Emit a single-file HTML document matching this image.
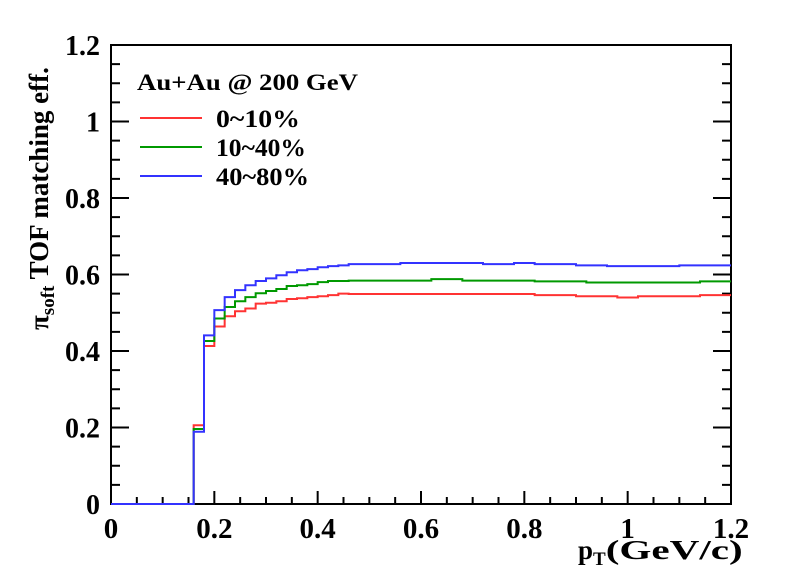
<!DOCTYPE html>
<html><head><meta charset="utf-8"><style>
body{margin:0;background:#fff}
text{font-family:"Liberation Serif",serif;font-weight:bold}
</style></head><body>
<svg id="c" width="796" height="574" viewBox="0 0 796 574" xmlns="http://www.w3.org/2000/svg">
<rect width="796" height="574" fill="#fff"/>
<g id="plot"></g>
</svg>
<script>
const binStart = 0.16, binWidth = 0.02;
const red = [.206,.413,.464,.491,.504,.511,.524,.526,.530,.536,.538,.541,.543,.546,.550,
 .549,.549,.549,.549,.549,.549,.549,.549,.549,.549,.549,.549,.549,.549,.549,.549,.549,.549,
 .546,.546,.546,.546,.543,.543,.543,.543,.540,.540,.543,.543,.543,.543,.543,.543,.546,.546,.546];
const green = [.196,.426,.485,.515,.530,.541,.551,.557,.562,.570,.572,.575,.580,.583,.583,
 .584,.584,.584,.584,.584,.584,.584,.584,.588,.588,.588,.584,.584,.584,.584,.584,.584,.584,
 .582,.582,.582,.582,.582,.579,.579,.579,.579,.579,.579,.579,.579,.579,.579,.579,.582,.582,.582];
const blue = [.189,.441,.507,.541,.559,.572,.583,.590,.598,.606,.611,.614,.619,.622,.624,
 .627,.627,.627,.627,.627,.630,.630,.630,.630,.630,.630,.630,.630,.627,.627,.627,.630,.630,
 .627,.627,.627,.627,.624,.624,.624,.622,.622,.622,.622,.622,.622,.622,.624,.624,.624,.624,.624];
const xTicks = ["0","0.2","0.4","0.6","0.8","1","1.2"];
const yTicks = ["0","0.2","0.4","0.6","0.8","1","1.2"];
const seriesNames = ["0~10%","10~40%","40~80%"];

const X0=111,X1=731,Y0=504,Y1=45;
const sx=v=>X0+(v/1.2)*(X1-X0);
const sy=v=>Y0-(v/1.2)*(Y0-Y1);
const NS="http://www.w3.org/2000/svg";
const g=document.getElementById('plot');
function mk(t,a,txt){const e=document.createElementNS(NS,t);for(const k in a)e.setAttribute(k,a[k]);if(txt!=null)e.textContent=txt;g.appendChild(e);return e;}

let fr=mk('rect',{x:X0,y:Y1,width:X1-X0,height:Y0-Y1,fill:'none',stroke:'#000','stroke-width':2});


for(let i=0;i<=24;i++){const v=i*0.05,x=sx(v),L=(i%4==0)?13:7;
 let t=mk('line',{x1:x,y1:Y0,x2:x,y2:Y0-L,stroke:'#000','stroke-width':2});
 
 }
xTicks.forEach((s,i)=>{let t=mk('text',{x:sx(i*0.2),y:538,'font-size':29,'text-anchor':'middle'},s);
 
 });
for(let i=0;i<=24;i++){const v=i*0.05,y=sy(v),L=(i%4==0)?18:9;
 let t=mk('line',{x1:X0,y1:y,x2:X0+L,y2:y,stroke:'#000','stroke-width':2});
 
 
 let t2=mk('line',{x1:X1,y1:y,x2:X1-L,y2:y,stroke:'#000','stroke-width':2});
 
 }
yTicks.forEach((s,i)=>{let t=mk('text',{x:100,y:sy(i*0.2)+10,'font-size':28,'text-anchor':'end'},s);
 
 });
const cols=['#ff3333','#009900','#3333ff'];
[red,green,blue].forEach((arr,k)=>{
 let d='M'+sx(0)+','+sy(0)+' H'+sx(binStart);
 arr.forEach((v,i)=>{const a=binStart+i*binWidth,b=a+binWidth;d+=' V'+sy(v)+' H'+sx(Math.min(b,1.2));});
 let p=mk('path',{d:d,fill:'none',stroke:cols[k],'stroke-width':2});
 
 
});
let lt=mk('text',{x:137,y:90,'font-size':23,textLength:221,lengthAdjust:'spacingAndGlyphs'},'Au+Au @ 200 GeV');


const legW=[84,90,93];
seriesNames.forEach((s,k)=>{const y=118+k*29;
 let l=mk('line',{x1:140,y1:y,x2:202,y2:y,stroke:cols[k],'stroke-width':2});
 
 
 let t=mk('text',{x:216,y:y+9,'font-size':25,textLength:legW[k],lengthAdjust:'spacingAndGlyphs'},s);
 
 });
let xt=mk('text',{x:578,y:559,'font-size':27},'');
xt.innerHTML='p<tspan font-size="19" dy="6">T</tspan><tspan dy="-6" textLength="137" lengthAdjust="spacingAndGlyphs">(GeV/c)</tspan>';


let yt=mk('text',{x:0,y:0,'font-size':27,transform:'translate(48,330) rotate(-90)'},'');
yt.innerHTML='π<tspan font-size="19" dy="6">soft</tspan><tspan dy="-6"> TOF matching eff.</tspan>';


</script>
</body></html>
